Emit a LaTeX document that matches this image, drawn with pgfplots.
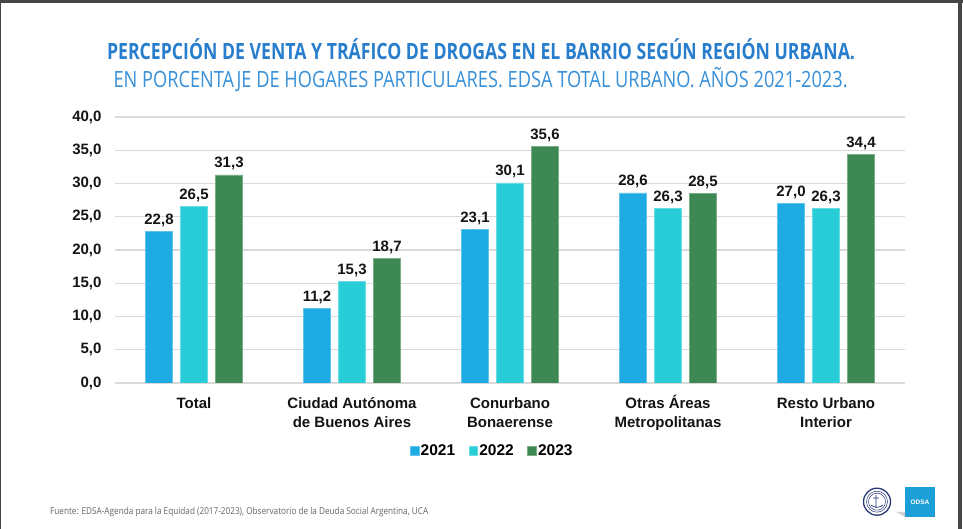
\documentclass[border=0pt]{standalone}
\usepackage{pgfplots}
\pgfplotsset{compat=1.18}
\usepackage{fontspec}
\setmainfont{Liberation Sans}
\newfontfamily\titlefont{Open Sans}
\definecolor{cA}{RGB}{30,170,226}
\definecolor{cB}{RGB}{41,205,216}
\definecolor{cC}{RGB}{62,136,83}
\definecolor{gridc}{RGB}{217,217,217}
\definecolor{tOne}{RGB}{40,126,204}
\definecolor{tTwo}{RGB}{56,144,216}
\definecolor{frame}{RGB}{70,70,72}
\definecolor{odsa}{RGB}{28,158,214}
\definecolor{navy}{RGB}{40,56,120}
\begin{document}
\begin{tikzpicture}[x=1pt,y=1pt]
\fill[white] (0,0) rectangle (963,529);
\fill[frame] (0,526) rectangle (963,529);
\fill[frame] (0,0) rectangle (1,529);
\fill[frame] (958,0) rectangle (962,529);
% titles
\node[anchor=base,inner sep=0pt,text=tOne] at (481,469.7)
  {\resizebox{748pt}{\height}{\titlefont\bfseries\fontsize{22.4}{22.4}\selectfont PERCEPCIÓN DE VENTA Y TRÁFICO DE DROGAS EN EL BARRIO SEGÚN REGIÓN URBANA.}};
\node[anchor=base,inner sep=0pt,text=tTwo] at (480.6,441.7)
  {\resizebox{734pt}{\height}{\titlefont\fontsize{22.4}{22.4}\selectfont EN PORCENTAJE DE HOGARES PARTICULARES. EDSA TOTAL URBANO. AÑOS 2021-2023.}};
% footer
\node[anchor=base west,inner sep=0pt,text=black!60] at (50,14)
  {\resizebox{378pt}{\height}{\titlefont\fontsize{9.5}{9.5}\selectfont Fuente: EDSA-Agenda para la Equidad (2017-2023), Observatorio de la Deuda Social Argentina, UCA}};
% logos
\fill[black!18] (896,17) -- (905,12) -- (905,17) -- cycle;
\fill[odsa] (905,12) rectangle (935,42);
\node[text=white,inner sep=0pt] at (920,27) {\bfseries\fontsize{6.5}{6.5}\selectfont ODSA};
\draw[navy,line width=1.3pt] (877,27.3) circle (13.5);
\draw[navy,line width=0.5pt] (877,27.3) circle (10.5);
\draw[navy,line width=0.5pt] (877,27.3) circle (8.5);
\draw[navy,line width=0.7pt] (876,21) -- (876,34) (873,31) -- (879,31) (871,24) .. controls (874,21) and (880,21) .. (883,24);
\begin{axis}[
  at={(115pt,146pt)}, anchor=south west,
  scale only axis, width=790pt, height=266pt,
  xmin=-0.5, xmax=4.5, ymin=0, ymax=40,
  ytick={0,5,10,15,20,25,30,35,40},
  xtick={0,1,2,3,4},
  xticklabels={{\vphantom{Á}Total},{\vphantom{Á}Ciudad Autónoma\\de Buenos Aires},{\vphantom{Á}Conurbano\\Bonaerense},{\vphantom{Á}Otras Áreas\\Metropolitanas},{\vphantom{Á}Resto Urbano\\Interior}},
  xticklabel style={align=center,font=\bfseries\fontsize{15}{19}\selectfont,text=black!92,yshift=-4pt},
  yticklabel style={font=\bfseries\fontsize{15}{15}\selectfont,text=black!92,xshift=-10pt,
    /pgf/number format/fixed,/pgf/number format/fixed zerofill,/pgf/number format/precision=1,
    /pgf/number format/use comma,/pgf/number format/assume math mode=true},
  ybar=7.5pt, bar width=27.5pt,
  ymajorgrids, grid style={line width=1.3pt,color=gridc},
  axis line style={draw=none}, tick style={draw=none},
  nodes near coords={\pgfmathprintnumber[fixed,fixed zerofill,precision=1,use comma,assume math mode=true]{\pgfplotspointmeta}},
  nodes near coords style={font=\bfseries\fontsize{15}{15}\selectfont,text=black!92,yshift=1pt},
  legend columns=3,
  legend style={at={(0.4772,-0.2556)},anchor=center,draw=none,fill=none,
    font=\bfseries\fontsize{15.5}{15.5}\selectfont,
    /tikz/every even column/.append style={column sep=12pt},
    nodes={inner xsep=1.5pt,inner ysep=0pt}},
  legend image code/.code={\fill[#1] (0pt,-4.3pt) rectangle (8.6pt,4.3pt);},
]
\addplot[fill=cA,draw=cA!70!white,line width=0.6pt] coordinates {(0,22.8) (1,11.2) (2,23.1) (3,28.6) (4,27.0)};
\addplot[fill=cB,draw=cB!70!white,line width=0.6pt] coordinates {(0,26.5) (1,15.3) (2,30.1) (3,26.3) (4,26.3)};
\addplot[fill=cC,draw=cC!70!white,line width=0.6pt] coordinates {(0,31.3) (1,18.7) (2,35.6) (3,28.5) (4,34.4)};
\legend{2021,2022,2023}
\end{axis}
\end{tikzpicture}
\end{document}
